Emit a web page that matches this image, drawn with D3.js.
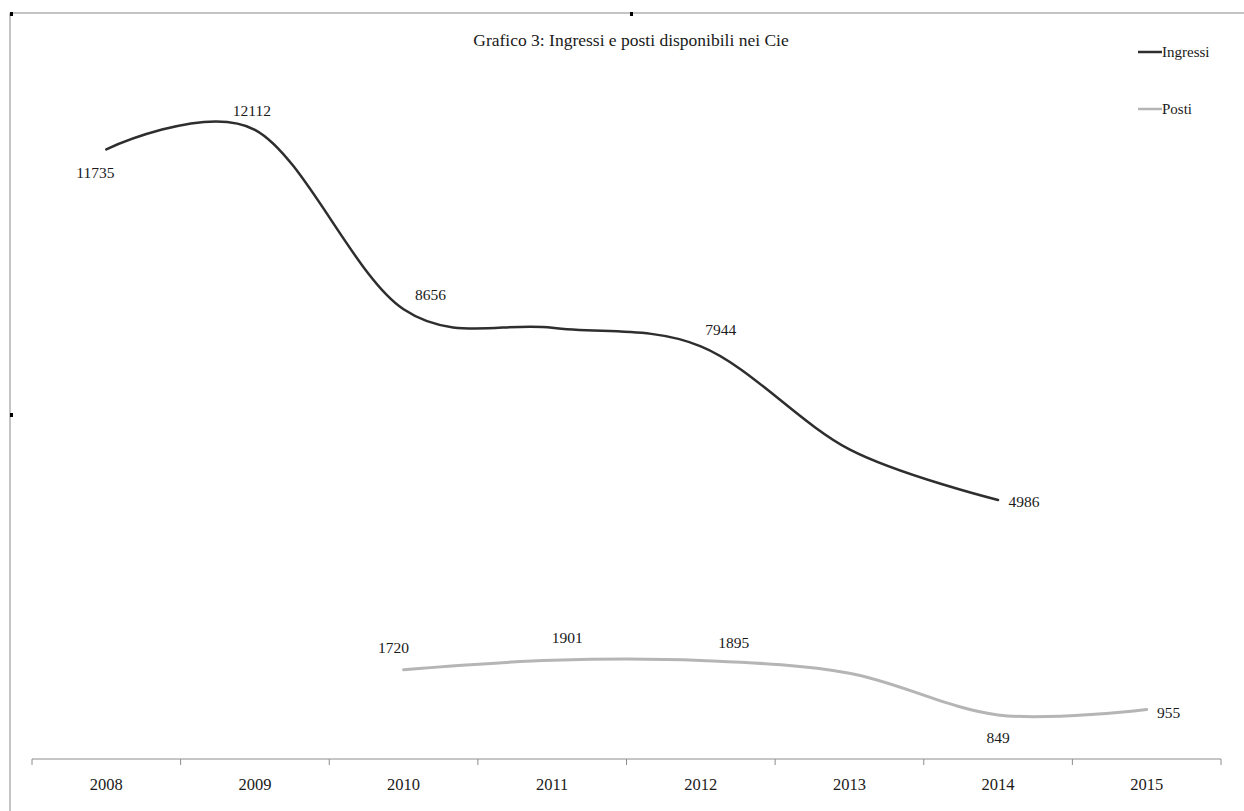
<!DOCTYPE html>
<html>
<head>
<meta charset="utf-8">
<script src="https://cdn.jsdelivr.net/npm/d3@7"></script>
<style>
  body { margin: 0; background: #fff; }
  svg text { font-family: "Liberation Serif", "DejaVu Serif", serif; fill: #1a1a1a; }
</style>
</head>
<body>
<svg id="app" width="1244" height="811"></svg>
<script>
const years = ['2008', '2009', '2010', '2011', '2012', '2013', '2014', '2015']
// null = no value for that year
const ingressi = [11735, 12112, 8656, 8300, 7944, 5960, 4986, null]
const posti = [null, null, 1720, 1901, 1895, 1650, 849, 955]
// which points carry a value label
const ingressiShown = [true, true, true, false, true, false, true, false]
const postiShown = [false, false, true, true, true, false, true, true]

// label offsets from the point (layout only)
const ingressiOffsets = [[-11, 23], [-3, -19], [27, -15], [0, 0], [20, -17], [0, 0], [26, 2], [0, 0]]
const postiOffsets = [[0, 0], [0, 0], [-10, -22], [15, -23], [33, -18], [0, 0], [0, 23], [22, 3]]

const darkColor = '#2e2e2e'
const lightColor = '#b5b5b5'

let svg = d3.select('#app')

// frame of the chart object
svg.append('line').attr('x1', 10).attr('y1', 13).attr('x2', 1244).attr('y2', 13)
  .attr('stroke', '#c4c4c4').attr('stroke-width', 2)
svg.append('line').attr('x1', 10).attr('y1', 13).attr('x2', 10).attr('y2', 811)
  .attr('stroke', '#c4c4c4').attr('stroke-width', 2)
// selection handles
const handles = [[10, 12], [630, 12], [10, 413]]
svg.selectAll('rect.handle')
  .data(handles)
  .enter()
  .append('rect')
  .attr('class', 'handle')
  .attr('x', d => d[0]).attr('y', d => d[1])
  .attr('width', 3).attr('height', 4)
  .attr('fill', '#000')

let x = d3.scaleBand().domain(years).range([32, 1221])
let y = d3.scaleLinear().domain([0, 14000]).range([759, 759 - 14000 * 0.05195])

// x axis
let axisG = svg.append('g').attr('transform', 'translate(0,759)')
axisG.append('line').attr('x1', 32).attr('x2', 1221).attr('stroke', '#8c8c8c').attr('stroke-width', 1)
const bounds = years.map(v => x(v)).concat([x(years[years.length - 1]) + x.bandwidth()])
axisG.selectAll('line.tick')
  .data(bounds)
  .enter()
  .append('line')
  .attr('class', 'tick')
  .attr('x1', d => d).attr('x2', d => d)
  .attr('y1', 0).attr('y2', 6)
  .attr('stroke', '#8c8c8c')
axisG.selectAll('text')
  .data(years)
  .enter()
  .append('text')
  .attr('x', d => x(d) + x.bandwidth() / 2)
  .attr('y', 31)
  .attr('text-anchor', 'middle')
  .attr('font-size', 16.5)
  .text(d => d)

// title
svg.append('text')
  .attr('x', 631).attr('y', 46)
  .attr('text-anchor', 'middle')
  .attr('font-size', 17.5)
  .text('Grafico 3: Ingressi e posti disponibili nei Cie')

const line = d3.line()
  .defined(d => d.v !== null)
  .x(d => x(d.year) + x.bandwidth() / 2)
  .y(d => y(d.v))
  .curve(d3.curveCatmullRom.alpha(0))

function series(values, shown, offsets, color, width) {
  const data = years.map((yr, i) => ({year: yr, v: values[i], shown: shown[i], off: offsets[i]}))
  svg.append('path')
    .datum(data.filter(d => d.v !== null))
    .attr('d', line)
    .attr('fill', 'none')
    .attr('stroke', color)
    .attr('stroke-width', width)
    .attr('stroke-linecap', 'round')
  svg.append('g').selectAll('text')
    .data(data.filter(d => d.v !== null && d.shown))
    .enter()
    .append('text')
    .attr('x', d => x(d.year) + x.bandwidth() / 2 + d.off[0])
    .attr('y', d => y(d.v) + d.off[1])
    .attr('dy', '0.35em')
    .attr('text-anchor', 'middle')
    .attr('font-size', 15.5)
    .text(d => d.v)
}

series(ingressi, ingressiShown, ingressiOffsets, darkColor, 2.5)
series(posti, postiShown, postiOffsets, lightColor, 3)

// legend
const legend = [['Ingressi', darkColor, 52], ['Posti', lightColor, 109]]
let legendG = svg.append('g')
legendG.selectAll('line')
  .data(legend)
  .enter()
  .append('line')
  .attr('x1', 1138).attr('x2', 1162)
  .attr('y1', d => d[2]).attr('y2', d => d[2])
  .attr('stroke', d => d[1])
  .attr('stroke-width', 2.5)
legendG.selectAll('text')
  .data(legend)
  .enter()
  .append('text')
  .attr('x', 1162)
  .attr('y', d => d[2])
  .attr('dy', '0.35em')
  .attr('font-size', 15)
  .text(d => d[0])
</script>
</body>
</html>
